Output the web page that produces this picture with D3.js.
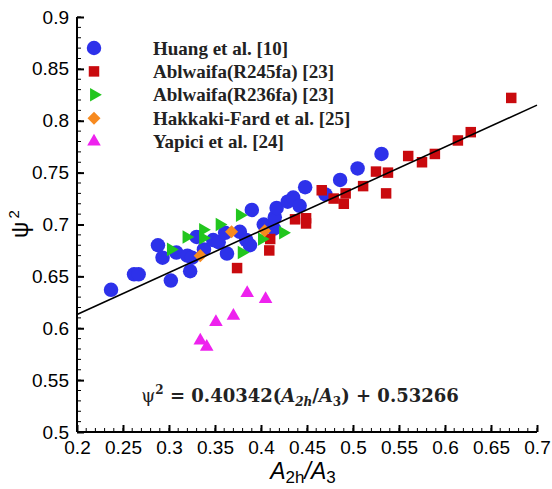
<!DOCTYPE html>
<html>
<head>
<meta charset="utf-8">
<script src="https://cdn.jsdelivr.net/npm/d3@7"></script>
<style>
  body { margin: 0; background: #fff; }
  svg { display: block; }
</style>
</head>
<body>
<div id="chart"></div>
<script>
// series: [x, y] pairs
let huang = [
  [0.237, 0.637], [0.262, 0.652], [0.267, 0.652], [0.288, 0.680], [0.293, 0.668],
  [0.302, 0.646], [0.308, 0.673], [0.320, 0.670], [0.325, 0.668], [0.323, 0.655],
  [0.330, 0.688], [0.338, 0.676], [0.348, 0.685], [0.354, 0.683], [0.361, 0.692],
  [0.363, 0.672], [0.377, 0.693], [0.384, 0.685], [0.388, 0.680], [0.390, 0.714],
  [0.403, 0.700], [0.414, 0.696], [0.415, 0.707], [0.417, 0.716], [0.429, 0.722],
  [0.435, 0.726], [0.442, 0.718], [0.448, 0.736], [0.470, 0.729], [0.486, 0.743],
  [0.505, 0.754], [0.531, 0.768]
];
let r245fa = [
  [0.374, 0.658], [0.410, 0.686], [0.409, 0.675], [0.437, 0.705], [0.449, 0.706],
  [0.449, 0.701], [0.466, 0.733], [0.479, 0.725], [0.490, 0.720], [0.492, 0.730],
  [0.511, 0.737], [0.525, 0.751], [0.538, 0.750], [0.536, 0.730], [0.560, 0.766],
  [0.575, 0.760], [0.589, 0.768], [0.614, 0.781], [0.628, 0.789], [0.672, 0.822]
];
let r236fa = [
  [0.302, 0.676], [0.319, 0.688], [0.337, 0.695], [0.337, 0.687], [0.355, 0.700],
  [0.377, 0.709], [0.379, 0.673], [0.401, 0.686], [0.424, 0.692]
];
let hakkaki = [[0.334, 0.670], [0.368, 0.693], [0.404, 0.694]];
let yapici = [
  [0.334, 0.588], [0.341, 0.582], [0.351, 0.606], [0.370, 0.612], [0.385, 0.634], [0.405, 0.628]
];
let seriesNames = ["Huang et al. [10]", "Ablwaifa(R245fa) [23]", "Ablwaifa(R236fa) [23]",
  "Hakkaki-Fard et al. [25]", "Yapici et al. [24]"];
let xTicks = [0.2, 0.25, 0.3, 0.35, 0.4, 0.45, 0.5, 0.55, 0.6, 0.65, 0.7];
let yTicks = [0.5, 0.55, 0.6, 0.65, 0.7, 0.75, 0.8, 0.85, 0.9];
let fitSlope = 0.40342, fitIntercept = 0.53266;

let width = 552, height = 489;
let svg = d3.select('#chart').append('svg')
  .attr('width', width).attr('height', height);

let x = d3.scaleLinear().domain([0.2, 0.7]).range([77, 537]);
let y = d3.scaleLinear().domain([0.5, 0.9]).range([432, 17]);

let styles = [
  { data: huang, color: '#2d31ea', type: d3.symbolCircle, size: 165, rot: 0 },
  { data: r245fa, color: '#c90a0e', type: d3.symbolSquare, size: 110, rot: 0 },
  { data: r236fa, color: '#22c61e', type: d3.symbolTriangle, size: 80, rot: 90 },
  { data: hakkaki, color: '#f78a1f', type: d3.symbolSquare, size: 85, rot: 45 },
  { data: yapici, color: '#ee22ee', type: d3.symbolTriangle, size: 80, rot: 0 }
];

// axes
let tickFont = '"Liberation Sans", Arial, sans-serif';
let xAxis = d3.axisBottom(x).tickValues(xTicks).tickSize(-7).tickPadding(9)
  .tickFormat(d => d3.format('')(+d.toFixed(2)));
let yAxis = d3.axisLeft(y).tickValues(yTicks).tickSize(-7).tickPadding(8)
  .tickFormat(d => d3.format('')(+d.toFixed(2)));

// minor ticks
let xMinor = d3.range(20, 71).map(d => d / 100);
let yMinor = d3.range(50, 91).map(d => d / 100);
svg.append('g').selectAll('line').data(xMinor).enter().append('line')
  .attr('x1', d => x(d)).attr('x2', d => x(d))
  .attr('y1', 432).attr('y2', 428)
  .attr('stroke', '#000').attr('stroke-width', 1);
svg.append('g').selectAll('line').data(yMinor).enter().append('line')
  .attr('x1', 77).attr('x2', 81)
  .attr('y1', d => y(d)).attr('y2', d => y(d))
  .attr('stroke', '#000').attr('stroke-width', 1);

let gx = svg.append('g').attr('transform', 'translate(0,432)').call(xAxis);
let gy = svg.append('g').attr('transform', 'translate(77,0)').call(yAxis);
[gx, gy].forEach(g => {
  g.select('.domain').attr('stroke', '#000').attr('stroke-width', 2);
  g.selectAll('.tick line').attr('stroke', '#000').attr('stroke-width', 2);
  g.selectAll('.tick text').attr('fill', '#000')
    .style('font-family', tickFont).style('font-size', '19px');
});
gx.select('.domain').attr('d', 'M77,0H537');
gy.select('.domain').attr('d', 'M0,432V17');

// points
styles.forEach(s => {
  svg.append('g').selectAll('path').data(s.data).enter().append('path')
    .attr('d', d3.symbol().type(s.type).size(s.size))
    .attr('transform', d => `translate(${x(d[0])},${y(d[1])}) rotate(${s.rot})`)
    .attr('fill', s.color);
});

// fit line
let lineX = [0.2, 0.7];
svg.append('path')
  .datum(lineX)
  .attr('d', d3.line().x(d => x(d)).y(d => y(fitSlope * d + fitIntercept)))
  .attr('stroke', '#000').attr('stroke-width', 1.6).attr('fill', 'none');

// legend
let legend = svg.append('g');
styles.forEach((s, i) => {
  let ly = 48 + i * 23.4;
  legend.append('path')
    .attr('d', d3.symbol().type(s.type).size(s.size))
    .attr('transform', `translate(94,${ly}) rotate(${s.rot})`)
    .attr('fill', s.color);
  legend.append('text')
    .attr('x', 153).attr('y', ly + 6.5)
    .text(seriesNames[i])
    .style('font-family', '"Liberation Serif", "Times New Roman", serif')
    .style('font-weight', 'bold').style('font-size', '19px').attr('fill', '#222');
});

// axis titles
let yt = svg.append('text')
  .attr('transform', 'translate(28,224) rotate(-90)')
  .attr('text-anchor', 'middle')
  .style('font-family', tickFont).style('font-size', '23px');
yt.append('tspan').text('ψ');
yt.append('tspan').attr('dy', -9).attr('dx', 3).style('font-size', '15px').text('2');

let xt = svg.append('text')
  .attr('x', 303).attr('y', 479).attr('text-anchor', 'middle')
  .style('font-family', tickFont).style('font-size', '23px');
xt.append('tspan').style('font-style', 'italic').text('A');
xt.append('tspan').attr('dy', 4).style('font-size', '17px').text('2h');
xt.append('tspan').attr('dy', -4).style('font-style', 'italic').text('/A');
xt.append('tspan').attr('dy', 4).style('font-size', '17px').text('3');

// equation
let eq = svg.append('text')
  .attr('x', 300).attr('y', 402).attr('text-anchor', 'middle')
  .style('font-family', '"DejaVu Serif", serif').style('font-weight', 'bold')
  .style('font-size', '18px').attr('fill', '#222');
eq.append('tspan').style('font-weight', 'normal').text('ψ');
eq.append('tspan').attr('dy', -8).style('font-size', '12px').text('2');
eq.append('tspan').attr('dy', 8).text(' = 0.40342(');
eq.append('tspan').style('font-style', 'italic').text('A');
eq.append('tspan').attr('dy', 4).style('font-size', '12px').style('font-style', 'italic').text('2h');
eq.append('tspan').attr('dy', -4).text('/');
eq.append('tspan').style('font-style', 'italic').text('A');
eq.append('tspan').attr('dy', 4).style('font-size', '12px').text('3');
eq.append('tspan').attr('dy', -4).text(') + 0.53266');
</script>
</body>
</html>
